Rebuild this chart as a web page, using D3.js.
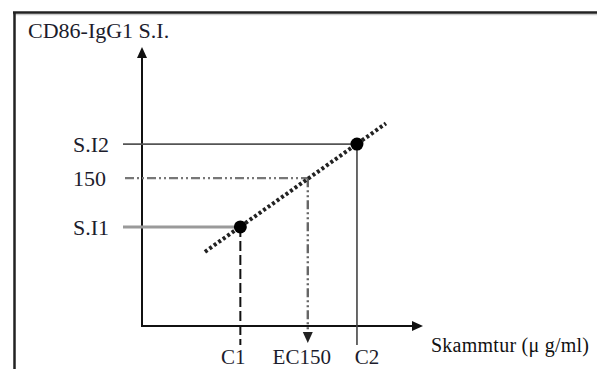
<!DOCTYPE html>
<html>
<head>
<meta charset="utf-8">
<script src="https://cdn.jsdelivr.net/npm/d3@7"></script>
<style>
  html, body { margin: 0; padding: 0; background: #fff; }
  svg { display: block; }
  .lbl { font-family: "Liberation Serif", "Times New Roman", serif; font-size: 22px; fill: #1c1c2c; }
</style>
</head>
<body>
<div id="chart"></div>
<script>
// concept chart: S.I. against dose, two measured points and the fitted line
const xLabels = ["C1", "EC150", "C2"];
const xValues = [35, 59, 76.5];
const yLabels = ["S.I1", "150", "S.I2"];
const yValues = [35.5, 53, 65.2];
const points = [
  { x: 35, y: 35.5 },
  { x: 76.5, y: 65.2 },
];
const fitLine = [
  { x: 22.4, y: 26.6 },
  { x: 86.8, y: 72.6 },
];
const yTitle = "CD86-IgG1 S.I.";
const xTitle = "Skammtur (μ g/ml)";

const W = 597, H = 369;
const LABEL_DX = [-7, -6, 10];

const svg = d3.select("#chart").append("svg").attr("width", W).attr("height", H);

const x = d3.scaleLinear().domain([0, 100]).range([142, 423]);
const y = d3.scaleLinear().domain([0, 100]).range([326, 47]);

// frame (only top and left edges show)
svg.append("line").attr("x1", 13).attr("x2", W).attr("y1", 14.5).attr("y2", 14.5)
  .attr("stroke", "#ccc").attr("stroke-width", 1.5);
svg.append("line").attr("x1", 13).attr("x2", W).attr("y1", 12.5).attr("y2", 12.5)
  .attr("stroke", "#222").attr("stroke-width", 2.5);
svg.append("line").attr("x1", 14.5).attr("x2", 14.5).attr("y1", 12).attr("y2", H)
  .attr("stroke", "#222").attr("stroke-width", 2.5);

const g = svg.append("g");

// axes with arrow heads
const [x0, x1] = x.range();
const [y0, y1] = y.range();
g.append("line").attr("x1", x0).attr("x2", x1 - 8).attr("y1", y0).attr("y2", y0)
  .attr("stroke", "#111").attr("stroke-width", 2);
g.append("line").attr("x1", x0).attr("x2", x0).attr("y1", y0 + 1).attr("y2", y1 + 8)
  .attr("stroke", "#111").attr("stroke-width", 2);
g.append("path").attr("d", `M${x1},${y0} L${x1 - 11},${y0 - 5} L${x1 - 11},${y0 + 5} Z`).attr("fill", "#111");
g.append("path").attr("d", `M${x0},${y1} L${x0 - 5},${y1 + 11} L${x0 + 5},${y1 + 11} Z`).attr("fill", "#111");

// reference lines
const LEFT = 123;
const BOTTOM = 345;
// S.I2 -> C2
g.append("line").attr("x1", LEFT).attr("x2", x(xValues[2])).attr("y1", y(yValues[2])).attr("y2", y(yValues[2]))
  .attr("stroke", "#555").attr("stroke-width", 1.6);
g.append("line").attr("x1", x(xValues[2])).attr("x2", x(xValues[2])).attr("y1", y(yValues[2])).attr("y2", BOTTOM)
  .attr("stroke", "#444").attr("stroke-width", 1.6);
// 150 -> EC150
g.append("line").attr("x1", LEFT + 2).attr("x2", x(xValues[1])).attr("y1", y(yValues[1])).attr("y2", y(yValues[1]))
  .attr("stroke", "#777").attr("stroke-width", 2.4).attr("stroke-dasharray", "9,3,2,3,2,3");
g.append("line").attr("x1", x(xValues[1])).attr("x2", x(xValues[1])).attr("y1", y(yValues[1])).attr("y2", 334)
  .attr("stroke", "#666").attr("stroke-width", 2.4).attr("stroke-dasharray", "9,3,2,3,2,3");
g.append("path").attr("d", `M${x(xValues[1])},343 L${x(xValues[1]) - 5},332 L${x(xValues[1]) + 5},332 Z`).attr("fill", "#222");
// S.I1 -> C1
g.append("line").attr("x1", LEFT).attr("x2", x(xValues[0])).attr("y1", y(yValues[0])).attr("y2", y(yValues[0]))
  .attr("stroke", "#9a9a9a").attr("stroke-width", 3);
g.append("line").attr("x1", x(xValues[0])).attr("x2", x(xValues[0])).attr("y1", y(yValues[0])).attr("y2", BOTTOM)
  .attr("stroke", "#111").attr("stroke-width", 2).attr("stroke-dasharray", "10,4");

// fitted line, dotted
g.append("path").datum(fitLine)
  .attr("d", d3.line().x(d => x(d.x)).y(d => y(d.y)))
  .attr("fill", "none").attr("stroke", "#222").attr("stroke-width", 4).attr("stroke-dasharray", "3,2.5");

// measured points
g.selectAll("circle.pt").data(points).join("circle").attr("class", "pt")
  .attr("cx", d => x(d.x)).attr("cy", d => y(d.y)).attr("r", 6.5).attr("fill", "#000");

// labels
g.selectAll("text.ylab").data(yLabels).join("text").attr("class", "lbl ylab")
  .attr("x", 73).attr("y", (d, i) => y(yValues[i])).attr("dy", "0.35em").text(d => d);
g.selectAll("text.xlab").data(xLabels).join("text").attr("class", "lbl xlab")
  .attr("x", (d, i) => x(xValues[i]) + LABEL_DX[i]).attr("y", 364).attr("text-anchor", "middle")
  .style("font-size", "21px").text(d => d);

svg.append("text").attr("class", "lbl").attr("x", 28).attr("y", 38).text(yTitle);
svg.append("text").attr("class", "lbl").attr("x", 431).attr("y", 352)
  .attr("textLength", 158).attr("lengthAdjust", "spacing")
  .style("font-size", "20px").style("fill", "#111").text(xTitle);
</script>
</body>
</html>
